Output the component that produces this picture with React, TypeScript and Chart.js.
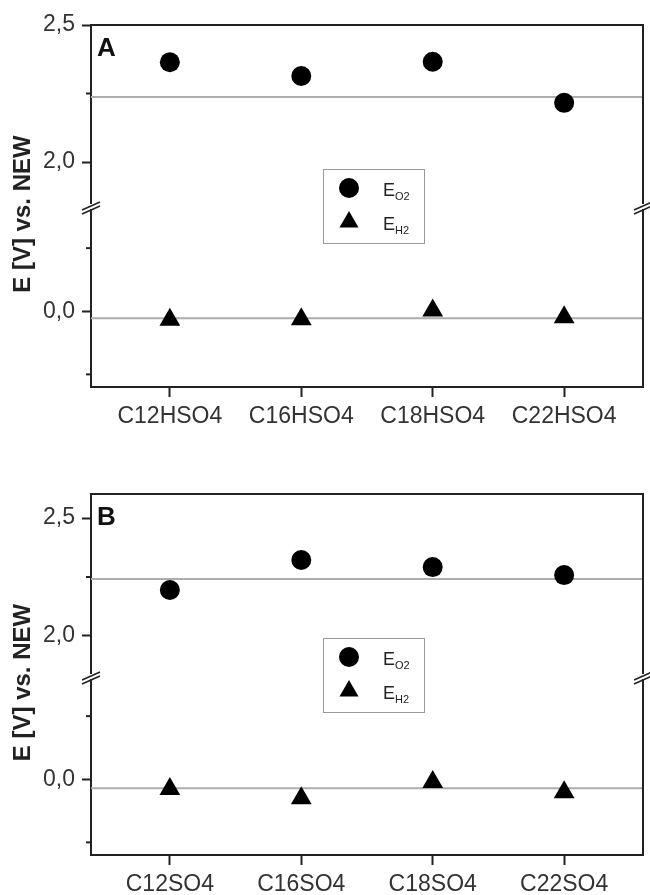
import React, { useEffect, useRef } from "react";
import { Chart, registerables } from "chart.js";

Chart.register(...registerables);

// ---------- DATA ----------
const categoriesA = ["C12HSO4", "C16HSO4", "C18HSO4", "C22HSO4"];
const eO2A = [2.364, 2.314, 2.366, 2.216];
const eH2A = [-0.034, -0.032, 0.003, -0.024];
const refLinesA = [2.237, -0.028];

const categoriesB = ["C12SO4", "C16SO4", "C18SO4", "C22SO4"];
const eO2B = [2.195, 2.322, 2.292, 2.258];
const eH2B = [-0.039, -0.075, -0.011, -0.051];
const refLinesB = [2.242, -0.036];

const seriesNames = ["E_O2", "E_H2"];
const yTitle = "E [V] vs. NEW";

const upperMajorTicks = [2.0, 2.5];
const upperMinorTicks = [2.25];
const lowerMajorTicks = [0.0];
const lowerMinorTicks = [-0.25, 0.25];

const FONT = "'Liberation Sans', Arial, sans-serif";
const AXIS = "#222";
const TEXT = "#333";

type PanelCfg = {
  label: string;
  categories: string[];
  o2: number[];
  h2: number[];
  refs: number[];
  upper: [number, number];
  lower: [number, number];
  weights: [number, number];
  height: number;
  padTop: number;
  xHeight: number;
};

const fmt = (v: number) => v.toFixed(1).replace(".", ",");

function makeChart(canvas: HTMLCanvasElement, p: PanelCfg) {
  const xMin = 0.4;
  const xMax = 4.6;
  const xs = p.categories.map((_, i) => i + 1);

  const decorPlugin = {
    id: "decor",
    afterDatasetsDraw(chart: any) {
      const ctx = chart.ctx as CanvasRenderingContext2D;
      const ca = chart.chartArea;
      const yHi = chart.scales.yHigh;
      const yLo = chart.scales.yLow;
      const L = ca.left;
      const R = ca.right;
      ctx.save();
      // frame: top and right
      ctx.strokeStyle = AXIS;
      ctx.lineWidth = 2;
      ctx.beginPath();
      ctx.moveTo(L - 1, ca.top);
      ctx.lineTo(R, ca.top);
      ctx.lineTo(R, ca.bottom + 1);
      ctx.stroke();
      // minor ticks
      ctx.lineWidth = 2;
      const minor = (scale: any, vals: number[]) => {
        vals.forEach((v) => {
          const y = scale.getPixelForValue(v);
          ctx.beginPath();
          ctx.moveTo(L - 5, y);
          ctx.lineTo(L, y);
          ctx.stroke();
        });
      };
      minor(yHi, upperMinorTicks);
      minor(yLo, lowerMinorTicks);
      // break marks
      const b = yHi.bottom;
      [L, R].forEach((x) => {
        ctx.fillStyle = "#fff";
        ctx.fillRect(x - 3, b - 3, 6, 5);
        ctx.strokeStyle = AXIS;
        ctx.lineWidth = 1.6;
        ctx.beginPath();
        ctx.moveTo(x - 9, b + 3);
        ctx.lineTo(x + 9, b - 5);
        ctx.moveTo(x - 9, b + 7);
        ctx.lineTo(x + 9, b - 1);
        ctx.stroke();
      });
      // panel label
      ctx.fillStyle = "#111";
      ctx.font = `bold 26px ${FONT}`;
      ctx.textAlign = "left";
      ctx.textBaseline = "alphabetic";
      ctx.fillText(p.label, L + 6, ca.top + 31);
      // y title
      ctx.save();
      ctx.translate(23, (ca.top + ca.bottom) / 2 + 8);
      ctx.rotate(-Math.PI / 2);
      ctx.font = `bold 24px ${FONT}`;
      ctx.fillStyle = "#222";
      ctx.textAlign = "center";
      ctx.textBaseline = "middle";
      ctx.fillText(yTitle, 0, 0);
      ctx.restore();
      // legend
      const bx = L + 232;
      const by = ca.top + 144;
      const bw = 101;
      const bh = 74;
      ctx.fillStyle = "#fff";
      ctx.fillRect(bx, by, bw, bh);
      ctx.strokeStyle = "#999";
      ctx.lineWidth = 1;
      ctx.strokeRect(bx + 0.5, by + 0.5, bw, bh);
      const rows = [by + 19, by + 53];
      chart.data.datasets.slice(0, 2).forEach((ds: any, i: number) => {
        const cx = bx + 26;
        const cy = rows[i];
        ctx.fillStyle = "#000";
        ctx.beginPath();
        if (ds.pointStyle === "triangle") {
          const r = 11;
          ctx.moveTo(cx, cy - r);
          ctx.lineTo(cx + r * Math.sin((2 * Math.PI) / 3), cy + r / 2);
          ctx.lineTo(cx - r * Math.sin((2 * Math.PI) / 3), cy + r / 2);
          ctx.closePath();
        } else {
          ctx.arc(cx, cy, 10, 0, Math.PI * 2);
        }
        ctx.fill();
        const [main, sub] = String(ds.label).split("_");
        ctx.fillStyle = "#222";
        ctx.textAlign = "left";
        ctx.textBaseline = "alphabetic";
        ctx.font = `18px ${FONT}`;
        const tx = bx + 60;
        const base = cy + 8;
        ctx.fillText(main, tx, base);
        const w = ctx.measureText(main).width;
        ctx.font = `11px ${FONT}`;
        ctx.fillText(sub, tx + w, base + 4);
      });
      ctx.restore();
    },
  };

  const yCommon = (ticksMajor: number[]) => ({
    type: "linear" as const,
    position: "left" as const,
    stack: "panel",
    afterFit: (s: any) => {
      s.width = 91;
    },
    afterBuildTicks: (s: any) => {
      s.ticks = ticksMajor.map((v) => ({ value: v }));
    },
    grid: {
      display: true,
      drawOnChartArea: false,
      drawTicks: true,
      tickLength: 9,
      tickWidth: 2,
      tickColor: AXIS,
    },
    border: { display: true, color: AXIS, width: 2 },
    ticks: {
      color: TEXT,
      font: { family: FONT, size: 23 },
      padding: 7,
      callback: (v: any) => fmt(Number(v)),
    },
  });

  return new Chart(canvas, {
    type: "scatter",
    data: {
      datasets: [
        {
          label: seriesNames[0],
          data: xs.map((x, i) => ({ x, y: p.o2[i] })),
          yAxisID: "yHigh",
          pointStyle: "circle",
          pointRadius: 10,
          backgroundColor: "#000",
          borderColor: "#000",
          borderWidth: 0,
        },
        {
          label: seriesNames[1],
          data: xs.map((x, i) => ({ x, y: p.h2[i] })),
          yAxisID: "yLow",
          pointStyle: "triangle",
          pointRadius: 12,
          backgroundColor: "#000",
          borderColor: "#000",
          borderWidth: 0,
        },
        {
          type: "line",
          label: "ref-high",
          data: [
            { x: xMin, y: p.refs[0] },
            { x: xMax, y: p.refs[0] },
          ],
          yAxisID: "yHigh",
          borderColor: "#adadad",
          borderWidth: 2,
          pointRadius: 0,
          showLine: true,
        },
        {
          type: "line",
          label: "ref-low",
          data: [
            { x: xMin, y: p.refs[1] },
            { x: xMax, y: p.refs[1] },
          ],
          yAxisID: "yLow",
          borderColor: "#adadad",
          borderWidth: 2,
          pointRadius: 0,
          showLine: true,
        },
      ] as any,
    },
    options: {
      responsive: false,
      animation: false,
      devicePixelRatio: 1,
      layout: { autoPadding: false, padding: { top: p.padTop, right: 7, left: 0, bottom: 0 } },
      plugins: { legend: { display: false }, tooltip: { enabled: false } },
      scales: {
        x: {
          type: "linear",
          min: xMin,
          max: xMax,
          afterFit: (s: any) => {
            s.height = p.xHeight;
            s.paddingLeft = 0;
            s.paddingRight = 0;
          },
          afterBuildTicks: (s: any) => {
            s.ticks = xs.map((v) => ({ value: v }));
          },
          grid: {
            display: true,
            drawOnChartArea: false,
            drawTicks: true,
            tickLength: 10,
            tickWidth: 2,
            tickColor: AXIS,
          },
          border: { display: true, color: AXIS, width: 2 },
          ticks: {
            color: TEXT,
            font: { family: FONT, size: 23 },
            padding: 6,
            maxRotation: 0,
            autoSkip: false,
            callback: (v: any) => p.categories[Number(v) - 1] ?? "",
          },
        },
        yLow: {
          ...yCommon(lowerMajorTicks),
          min: p.lower[0],
          max: p.lower[1],
          stackWeight: p.weights[1],
        },
        yHigh: {
          ...yCommon(upperMajorTicks),
          min: p.upper[0],
          max: p.upper[1],
          stackWeight: p.weights[0],
        },
      } as any,
    },
    plugins: [decorPlugin],
  });
}

const panelA: PanelCfg = {
  label: "A",
  categories: categoriesA,
  o2: eO2A,
  h2: eH2A,
  refs: refLinesA,
  upper: [1.836, 2.5],
  lower: [-0.3, 0.413],
  weights: [182, 180],
  height: 440,
  padTop: 25,
  xHeight: 53,
};

const panelB: PanelCfg = {
  label: "B",
  categories: categoriesB,
  o2: eO2B,
  h2: eH2B,
  refs: refLinesB,
  upper: [1.826, 2.602],
  lower: [-0.3, 0.405],
  weights: [183, 178],
  height: 450,
  padTop: 49,
  xHeight: 40,
};

function Panel({ cfg, top }: { cfg: PanelCfg; top: number }) {
  const ref = useRef<HTMLCanvasElement | null>(null);
  useEffect(() => {
    if (!ref.current) return;
    const c = makeChart(ref.current, cfg);
    return () => c.destroy();
  }, [cfg]);
  return (
    <canvas
      ref={ref}
      width={650}
      height={cfg.height}
      style={{ position: "absolute", left: 0, top, width: 650, height: cfg.height, display: "block" }}
    />
  );
}

export default function App() {
  return (
    <div style={{ position: "absolute", left: 0, top: 0, width: 650, height: 895, background: "#fff" }}>
      <Panel cfg={panelA} top={0} />
      <Panel cfg={panelB} top={445} />
    </div>
  );
}
